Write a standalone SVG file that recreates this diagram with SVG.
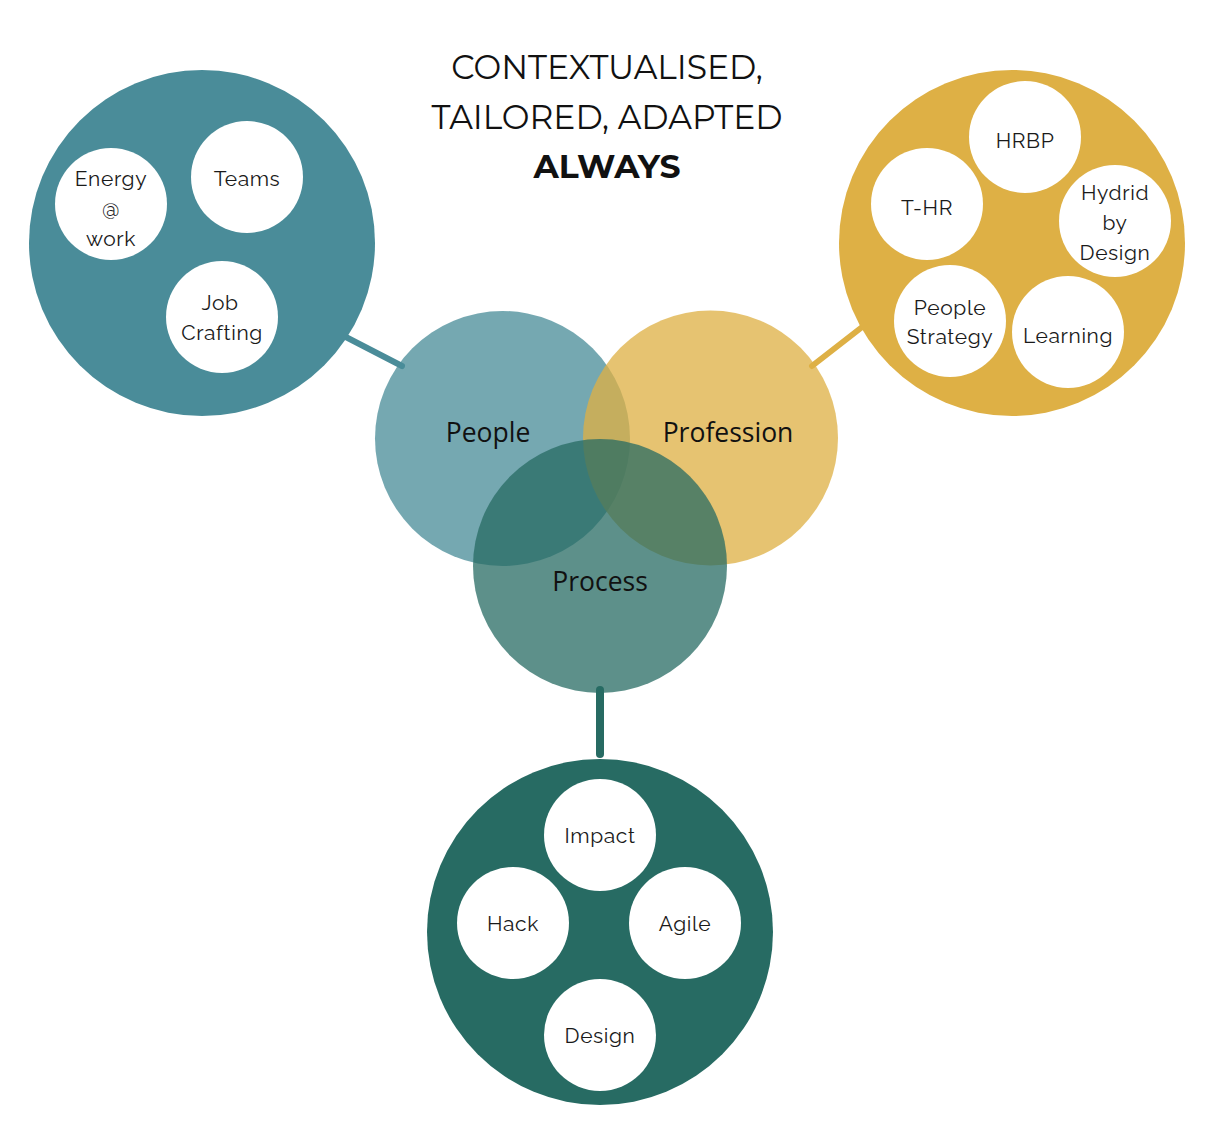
<svg xmlns="http://www.w3.org/2000/svg" width="1218" height="1138" viewBox="0 0 1218 1138">
<style>
.title{font-family:"Montserrat","Lato","Liberation Sans",sans-serif;font-size:33px;fill:#111;text-anchor:middle}
.lbl{font-family:"Raleway","Lato","Liberation Sans",sans-serif;font-size:21px;fill:#1a1a1a;text-anchor:middle;letter-spacing:0.6px}
.venn{font-family:"Open Sans","Noto Sans",sans-serif;font-size:26.5px;fill:#111;text-anchor:middle}
.w{fill:#ffffff}
</style>
<rect width="1218" height="1138" fill="#ffffff"/>
<g id="title">
<text class="title" x="607" y="79">CONTEXTUALISED,</text>
<text class="title" x="607" y="129">TAILORED, ADAPTED</text>
<text class="title" x="607" y="178" font-weight="bold">ALWAYS</text>
</g>
<g id="connectors" stroke-linecap="round">
<line x1="340" y1="334" x2="402" y2="366" stroke="#4A8C99" stroke-width="6"/>
<line x1="812" y1="366" x2="866" y2="324" stroke="#DEB045" stroke-width="6"/>
<line x1="600" y1="690" x2="600" y2="754" stroke="#276B63" stroke-width="8"/>
</g>
<g id="people-group">
<circle cx="202" cy="243" r="173" fill="#4A8C99"/>
<g id="energy"><circle class="w" cx="111" cy="204" r="56"/><text class="lbl" x="111" y="186">Energy</text><text class="lbl" x="111" y="216">@</text><text class="lbl" x="111" y="246">work</text></g>
<g id="teams"><circle class="w" cx="247" cy="177" r="56"/><text class="lbl" x="247" y="186">Teams</text></g>
<g id="jobcrafting"><circle class="w" cx="222" cy="317" r="56"/><text class="lbl" x="220" y="310">Job</text><text class="lbl" x="222" y="340">Crafting</text></g>
</g>
<g id="profession-group">
<circle cx="1012" cy="243" r="173" fill="#DEB045"/>
<g id="hrbp"><circle class="w" cx="1025" cy="137" r="56"/><text class="lbl" x="1025" y="148">HRBP</text></g>
<g id="thr"><circle class="w" cx="927" cy="204" r="56"/><text class="lbl" x="927" y="215">T-HR</text></g>
<g id="hydrid"><circle class="w" cx="1115" cy="221" r="56"/><text class="lbl" x="1115" y="200">Hydrid</text><text class="lbl" x="1115" y="230">by</text><text class="lbl" x="1115" y="260">Design</text></g>
<g id="peoplestrategy"><circle class="w" cx="950" cy="321" r="56"/><text class="lbl" x="950" y="315">People</text><text class="lbl" x="950" y="344">Strategy</text></g>
<g id="learning"><circle class="w" cx="1068" cy="332" r="56"/><text class="lbl" x="1068" y="343">Learning</text></g>
</g>
<g id="process-group">
<circle cx="600" cy="932" r="173" fill="#276B63"/>
<g id="impact"><circle class="w" cx="600" cy="835" r="56"/><text class="lbl" x="600" y="843">Impact</text></g>
<g id="hack"><circle class="w" cx="513" cy="923" r="56"/><text class="lbl" x="513" y="931">Hack</text></g>
<g id="agile"><circle class="w" cx="685" cy="923" r="56"/><text class="lbl" x="685" y="931">Agile</text></g>
<g id="design"><circle class="w" cx="600" cy="1035" r="56"/><text class="lbl" x="600" y="1043">Design</text></g>
</g>
<g id="venn">
<g id="people"><circle cx="502.5" cy="438.5" r="127.5" fill="#4A8C99" fill-opacity="0.76"/></g>
<g id="profession"><circle cx="710.5" cy="438" r="127.5" fill="#DEB045" fill-opacity="0.76"/></g>
<g id="process"><circle cx="600" cy="566" r="127" fill="#276B63" fill-opacity="0.75"/></g>
<text class="venn" x="488" y="442">People</text>
<text class="venn" x="728" y="442">Profession</text>
<text class="venn" x="600" y="591">Process</text>
</g>
</svg>
